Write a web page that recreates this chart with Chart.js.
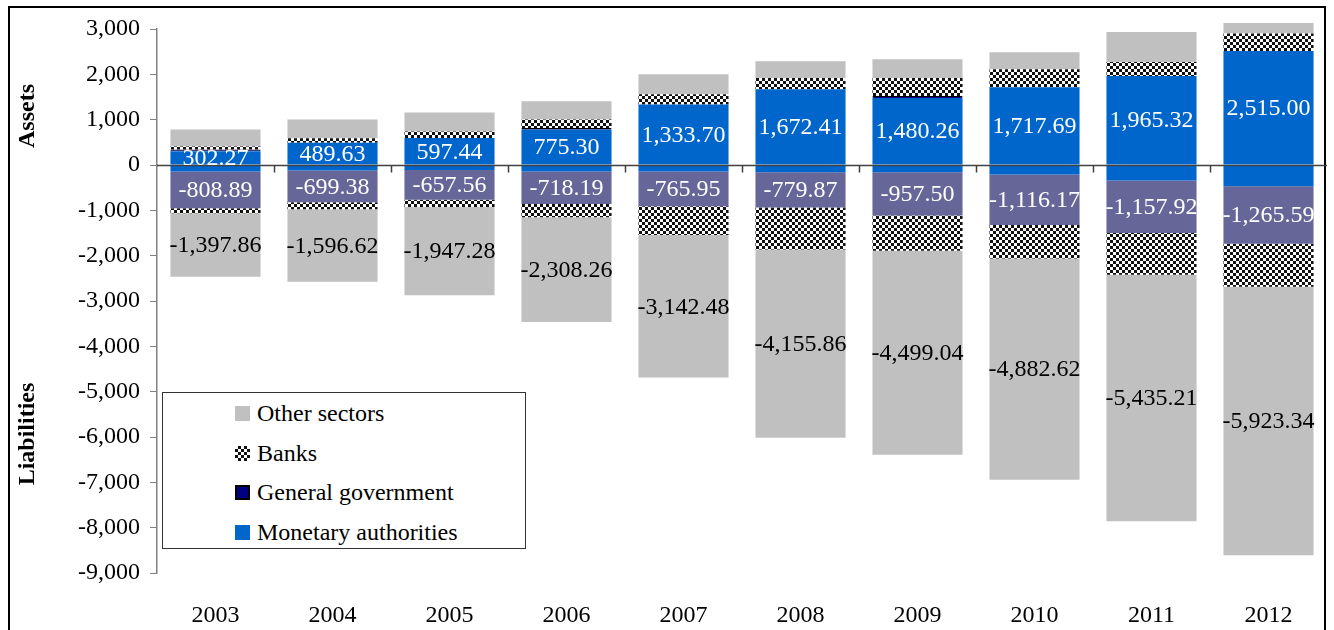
<!DOCTYPE html>
<html>
<head>
<meta charset="utf-8">
<script src="https://cdn.jsdelivr.net/npm/chart.js@4.4.1/dist/chart.umd.min.js"></script>
<style>
  html, body { margin: 0; padding: 0; background: #fff; overflow: hidden; }
  #wrap { position: relative; width: 1334px; height: 630px; }
  #frame { position: absolute; left: 8px; top: 6px; width: 1318px; height: 700px; border: 2px solid #000; box-sizing: border-box; }
  #chart { position: absolute; left: 0; top: 0; }
  #legend {
    position: absolute; left: 162px; top: 392px; width: 364px; height: 157px;
    border: 1px solid #333; box-sizing: border-box; background: #fff;
    font-family: "Liberation Serif", serif; font-size: 24px; color: #000;
  }
  .item { position: absolute; left: 72px; height: 24px; line-height: 24px; white-space: nowrap; }
  .sw { position: absolute; left: 0; top: 5px; width: 15px; height: 15px; box-sizing: border-box; }
  .item span.t { position: absolute; left: 22px; top: 0; }
</style>
</head>
<body>
<div id="wrap">
  <div id="frame"></div>
  <canvas id="chart" width="1334" height="630"></canvas>
  <div id="legend"></div>
</div>
<script>
const years = ["2003", "2004", "2005", "2006", "2007", "2008", "2009", "2010", "2011", "2012"];

// Assets (positive side)
const monetaryAssets = [302.27, 489.63, 597.44, 775.30, 1333.70, 1672.41, 1480.26, 1717.69, 1965.32, 2515.00];
const governmentAssets = [40, null, null, 40, null, null, 40, null, null, null];
const banksAssets = [67, 103, 140, 191, 226, 249, 400, 395, 309, 385];
const otherAssets = [376, 413, 420, 399, 442, 369, 414, 376, 657, 234];

// Liabilities (negative side)
const monetaryLiabilities = [-144, -122, -110, -144, -144, -159, -159, -210, -343, -469];
const governmentLiabilities = [-808.89, -699.38, -657.56, -718.19, -765.95, -779.87, -957.50, -1116.17, -1157.92, -1265.59];
const banksLiabilities = [-113, -157, -160, -293, -635, -924, -775, -736, -922, -953];
const otherLiabilities = [-1397.86, -1596.62, -1947.28, -2308.26, -3142.48, -4155.86, -4499.04, -4882.62, -5435.21, -5923.34];

const yTicks = [3000, 2000, 1000, 0, -1000, -2000, -3000, -4000, -5000, -6000, -7000, -8000, -9000];

const FONT = "Liberation Serif";

function checker() {
    const c = document.createElement("canvas");
    c.width = 6;
    c.height = 6;
    const g = c.getContext("2d");
    g.fillStyle = "#fff";
    g.fillRect(0, 0, 6, 6);
    g.fillStyle = "#111";
    g.fillRect(0, 0, 3, 3);
    g.fillRect(3, 3, 3, 3);
    return c;
}

const ctx = document.getElementById("chart").getContext("2d");
const banksPattern = ctx.createPattern(checker(), "repeat");

const legendItems = [
    { label: "Other sectors", css: "background:#c0c0c0;" },
    { label: "Banks", css: "background-image:repeating-conic-gradient(#111 0 25%, #fff 0 50%);background-size:6px 6px;" },
    { label: "General government", css: "background:#000080;border:2px solid #000;" },
    { label: "Monetary authorities", css: "background:#0066cc;" },
];
const legendTops = [8, 48, 87, 127];
document.getElementById("legend").innerHTML = legendItems
    .map((it, i) => `<div class="item" style="top:${legendTops[i]}px"><div class="sw" style="${it.css}"></div><span class="t">${it.label}</span></div>`)
    .join("");

const fmt = (v) => v.toLocaleString("en-US", { minimumFractionDigits: 2, maximumFractionDigits: 2 });

const overlay = {
    id: "overlay",
    afterDatasetsDraw(chart) {
        const c = chart.ctx;
        const area = chart.chartArea;
        const y = chart.scales.y;
        const zero = Math.round(y.getPixelForValue(0)) + 0.5;

        c.save();
        c.strokeStyle = "#404040";
        c.lineWidth = 1.5;
        c.beginPath();
        c.moveTo(area.left, zero);
        c.lineTo(area.right, zero);
        const step = (area.right - area.left) / years.length;
        for (let i = 1; i < years.length; i++) {
            const px = Math.round(area.left + i * step) + 0.5;
            c.moveTo(px, zero);
            c.lineTo(px, zero + 7);
        }
        c.stroke();

        // value labels, centred in their segment
        c.font = `24px "${FONT}"`;
        c.textAlign = "center";
        c.textBaseline = "middle";
        chart.data.datasets.forEach((ds, i) => {
            if (!ds.labelColor) return;
            const meta = chart.getDatasetMeta(i);
            meta.data.forEach((bar, j) => {
                const v = ds.data[j];
                if (v == null) return;
                const p = bar.getProps(["x", "y", "base"], true);
                c.fillStyle = ds.labelColor;
                c.fillText(fmt(v), p.x, (p.y + p.base) / 2 + 1);
            });
        });

        c.fillStyle = "#000";
        c.font = `bold 24px "${FONT}"`;
        [["Assets", 116], ["Liabilities", 434]].forEach(([t, cy]) => {
            c.save();
            c.translate(28, cy);
            c.rotate(-Math.PI / 2);
            c.fillText(t, 0, 0);
            c.restore();
        });
        c.restore();
    },
};

function bar(label, data, color, extra) {
    return Object.assign({
        label,
        data,
        backgroundColor: color,
        borderWidth: 0,
        stack: "s",
        barPercentage: 0.77,
        categoryPercentage: 1,
        clip: false,
    }, extra || {});
}

new Chart(ctx, {
    type: "bar",
    data: {
        labels: years,
        datasets: [
            bar("Monetary authorities", monetaryAssets, "#0066cc", { labelColor: "#fff" }),
            bar("General government", governmentAssets, "#000080", { borderColor: "#000", borderWidth: 1 }),
            bar("Banks", banksAssets, banksPattern),
            bar("Other sectors", otherAssets, "#c0c0c0"),
            bar("Monetary authorities (liabilities)", monetaryLiabilities, "#0066cc"),
            bar("General government (liabilities)", governmentLiabilities, "#666699", { labelColor: "#fff" }),
            bar("Banks (liabilities)", banksLiabilities, banksPattern),
            bar("Other sectors (liabilities)", otherLiabilities, "#c0c0c0", { labelColor: "#000" }),
        ],
    },
    options: {
        responsive: false,
        animation: false,
        layout: { padding: { left: 0, right: 7, top: 29, bottom: 0 } },
        plugins: {
            legend: { display: false },
            tooltip: { enabled: false },
        },
        scales: {
            x: {
                stacked: true,
                grid: { display: false },
                border: { display: false },
                ticks: {
                    color: "#000",
                    font: { family: FONT, size: 24 },
                    padding: 20,
                    maxRotation: 0,
                },
                afterFit(scale) { scale.height = 57; },
            },
            y: {
                stacked: true,
                min: -9000,
                max: 3000,
                afterBuildTicks(scale) { scale.ticks = yTicks.map((v) => ({ value: v })); },
                grid: { drawOnChartArea: false, drawTicks: true, tickLength: 7, color: "#808080" },
                border: { display: true, color: "#808080", width: 1.5 },
                ticks: {
                    color: "#000",
                    font: { family: FONT, size: 24 },
                    padding: 10,
                    callback: (v) => Number(v).toLocaleString("en-US"),
                },
                afterFit(scale) { scale.width = 157; },
            },
        },
    },
    plugins: [overlay],
});
</script>
</body>
</html>
